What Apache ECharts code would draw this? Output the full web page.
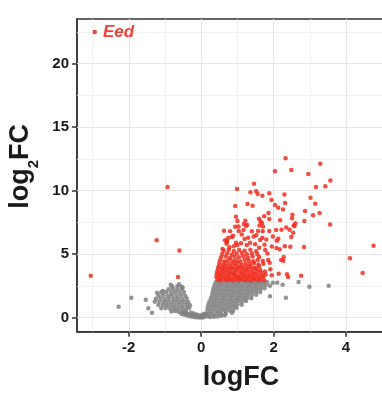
<!DOCTYPE html>
<html><head><meta charset="utf-8">
<script src="https://cdn.jsdelivr.net/npm/echarts@6/dist/echarts.min.js"></script>
<style>html,body{margin:0;padding:0;background:#fff}#c{width:382px;height:394px}</style>
</head><body><div id="c"></div>
<script>
// ---- data ----
const xTickValues = [-2, 0, 2, 4];
const yTickValues = [0, 5, 10, 15, 20];
const xGridMajor = [-2, 0, 2, 4];
const xGridMinor = [-3, -1, 1, 3, 5];
const yGridMajor = [0, 5, 10, 15, 20];
const yGridMinor = [2.5, 7.5, 12.5, 17.5, 22.5];

const labelledPoint = [[-2.94, 22.5]];
const labelledName = 'Eed';

const upPoints = [
 [2.33,12.55],[2.04,11.53],[2.49,11.63],[3.29,12.13],[2.96,11.32],
 [0.99,10.13],[1.46,10.55],[1.36,9.87],[1.52,9.95],[1.56,9.74],[1.69,9.6],[1.88,9.8],[2.3,9.7],[1.94,9.27],[3.02,9.45],[3.17,10.3],[3.43,10.35],[3.57,10.8],
 [0.94,8.8],[1.28,8.95],[1.42,8.82],[2.04,8.87],[2.13,8.66],[2.26,8.53],[2.32,9.03],[3.15,8.98],[2.87,8.4],[2.52,8.1],[3.27,8.24],[3.09,8.06],
 [1.86,8.24],[1.88,7.77],[1.74,7.98],[0.96,7.95],[1.0,7.61],[0.94,7.17],[1.22,7.63],[1.18,7.37],[1.03,7.19],[1.27,7.3],
 [1.6,7.8],[1.64,7.57],[1.68,7.45],[1.71,7.18],[1.61,7.26],[2.18,7.67],[2.51,7.83],[2.6,7.43],[2.85,7.61],[3.56,7.35],[2.56,7.26],
 [0.63,6.85],[0.8,6.8],[1.24,7.24],[1.4,6.8],[1.57,6.83],[1.7,6.8],[1.88,6.83],[2.07,6.9],[2.22,6.93],[2.44,6.93],[2.58,7.22],[2.35,7.1],[2.54,6.7],[1.17,6.9],[1.04,6.83],[2.49,6.35],
 [4.76,5.67],[2.31,5.62],[2.46,5.59],[2.84,5.57],[2.28,4.78],[2.27,4.49],[2.21,4.54],[4.11,4.68],[4.46,3.52],[2.14,3.46],[2.37,3.42],[2.4,3.2],[2.76,3.3],[1.95,3.35],
 [-0.93,10.3],[-3.05,3.3],[-1.23,6.1],[-0.6,5.3],[-0.64,3.2],
 [0.88,6.45],[1.12,6.55],[1.3,6.3],[1.52,6.5],[1.8,6.15],[1.98,6.4],[0.75,6.3],
 [0.59,5.41],[0.9,5.62],[1.0,5.72],[1.1,5.86],[1.26,5.72],[1.35,5.9],[1.49,5.78],[1.63,6.12],[1.69,6.3],[0.66,6.1],[0.71,5.96],[0.96,5.9],[0.7,5.83],[0.71,6.06],
 [2.09,6.06],[2.13,6.22],[2.08,5.49],[2.17,5.39],[1.2,6.2],[1.45,6.4],[0.85,6.35],[1.75,5.75],[1.95,5.6],[1.6,5.5],[0.78,5.55],
 [0.62,5.3],[0.76,5.36],[0.9,5.25],[1.05,5.33],[1.2,5.27],[1.36,5.35],[1.52,5.24],[1.77,5.33],
 [0.58,5.02],[0.72,5.08],[0.85,4.98],[0.98,5.05],[1.12,5.1],[1.26,4.99],[1.4,5.06],[1.55,5.0],[1.83,5.05],
 [0.55,4.76],[0.68,4.82],[0.8,4.72],[0.92,4.8],[1.04,4.76],[1.16,4.84],[1.29,4.72],[1.42,4.82],[1.6,4.78],
 [0.52,4.5],[0.64,4.44],[0.75,4.54],[0.86,4.46],[0.96,4.5],[1.08,4.44],[1.2,4.56],[1.32,4.48],[1.44,4.44],[1.56,4.54],[1.7,4.46],[1.89,4.33],[1.85,4.54],
 [0.5,4.26],[0.6,4.2],[0.7,4.3],[0.8,4.22],[0.91,4.25],[1.01,4.32],[1.12,4.2],[1.23,4.27],[1.35,4.22],[1.46,4.3],[1.58,4.2],[1.72,4.25],
 [0.48,4.04],[0.58,3.98],[0.67,4.06],[0.77,4.0],[0.87,3.96],[0.96,4.08],[1.06,4.02],[1.16,3.98],[1.26,4.06],[1.37,4.01],[1.48,3.96],[1.6,4.06],[1.91,3.81],
 [0.46,3.84],[0.56,3.78],[0.65,3.88],[0.74,3.8],[0.84,3.85],[0.93,3.77],[1.02,3.9],[1.12,3.82],[1.22,3.79],[1.31,3.87],[1.42,3.8],[1.52,3.84],[1.63,3.77],
 [0.44,3.62],[0.53,3.55],[0.62,3.66],[0.71,3.58],[0.8,3.61],[0.9,3.53],[0.99,3.65],[1.08,3.59],[1.17,3.55],[1.26,3.66],[1.36,3.6],[1.45,3.53],[1.55,3.63],[1.66,3.57],[1.76,3.64],
 [0.43,3.42],[0.52,3.35],[0.6,3.45],[0.69,3.33],[0.78,3.39],[0.86,3.47],[0.95,3.37],[1.03,3.31],[1.12,3.43],[1.21,3.36],[1.3,3.41],[1.39,3.32],[1.48,3.44],[1.58,3.37],[1.68,3.33],[1.78,3.4],
 [0.42,3.2],[0.5,3.13],[0.58,3.23],[0.67,3.14],[0.75,3.18],[0.84,3.11],[0.92,3.24],[1.01,3.16],[1.1,3.12],[1.18,3.21],[1.27,3.15],[1.35,3.23],[1.44,3.13],[1.52,3.18],[1.61,3.1],[1.72,3.2],
 [0.45,3.0],[0.53,2.95],[0.61,3.04],[0.7,2.96],[0.78,3.01],[0.87,2.94],[0.95,3.02],[1.04,2.97],[1.12,3.03],[1.21,2.95],[1.29,3.0],[1.38,2.94],[1.46,3.02],[1.55,2.96],[1.64,3.0],[1.74,2.95]
];

const nsPoints = [
 [-0.55,0.32],[-0.48,0.25],[-0.4,0.18],[-0.32,0.12],[-0.24,0.07],[-0.16,0.04],[-0.08,0.02],[0.0,0.01],[0.06,0.04],[0.11,0.1],
 [-0.5,0.42],[-0.42,0.35],[-0.34,0.28],[-0.26,0.2],[-0.18,0.15],[-0.1,0.1],[-0.03,0.08],[0.04,0.12],[0.09,0.2],
 [-0.28,0.42],[-0.2,0.33],[-0.12,0.25],[-0.05,0.18],[0.02,0.22],[0.14,0.3],[0.08,0.32],
 [0.25,0.05],[0.35,0.08],[0.45,0.1],[0.55,0.15],[0.65,0.2],[0.18,0.12],
 [0.15,0.3],[0.25,0.32],[0.35,0.28],[0.45,0.33],[0.55,0.3],[0.68,0.34],
 [0.17,0.55],[0.27,0.53],[0.37,0.57],[0.47,0.52],[0.57,0.56],[0.67,0.54],[0.78,0.57],[0.88,0.55],
 [0.18,0.8],[0.28,0.78],[0.38,0.82],[0.48,0.79],[0.58,0.81],[0.68,0.77],[0.78,0.83],[0.88,0.8],[0.98,0.78],
 [0.2,1.05],[0.3,1.03],[0.4,1.07],[0.5,1.04],[0.6,1.06],[0.7,1.02],[0.8,1.07],[0.9,1.04],[1.0,1.06],[1.12,1.03],
 [0.23,1.3],[0.33,1.28],[0.43,1.32],[0.53,1.29],[0.63,1.31],[0.73,1.27],[0.83,1.32],[0.93,1.29],[1.03,1.31],[1.13,1.28],[1.24,1.32],
 [0.27,1.55],[0.37,1.53],[0.47,1.57],[0.57,1.54],[0.67,1.56],[0.77,1.52],[0.87,1.57],[0.97,1.54],[1.07,1.56],[1.17,1.53],[1.27,1.57],[1.38,1.54],
 [0.3,1.8],[0.4,1.78],[0.5,1.82],[0.6,1.79],[0.7,1.81],[0.8,1.77],[0.9,1.82],[1.0,1.79],[1.1,1.81],[1.2,1.78],[1.3,1.82],[1.4,1.79],[1.52,1.8],
 [0.32,2.05],[0.42,2.03],[0.52,2.07],[0.62,2.04],[0.72,2.06],[0.82,2.02],[0.92,2.07],[1.02,2.04],[1.12,2.06],[1.22,2.03],[1.32,2.07],[1.42,2.04],[1.52,2.06],[1.63,2.03],
 [0.34,2.3],[0.44,2.28],[0.54,2.32],[0.64,2.29],[0.74,2.31],[0.84,2.27],[0.94,2.32],[1.04,2.29],[1.14,2.31],[1.24,2.28],[1.34,2.32],[1.44,2.29],[1.54,2.31],[1.64,2.28],[1.75,2.32],
 [0.37,2.55],[0.47,2.53],[0.57,2.57],[0.67,2.54],[0.77,2.56],[0.87,2.52],[0.97,2.57],[1.07,2.54],[1.17,2.56],[1.27,2.53],[1.37,2.57],[1.47,2.54],[1.57,2.56],[1.67,2.53],[1.78,2.57],[1.9,2.52],
 [0.4,2.8],[0.5,2.78],[0.6,2.82],[0.7,2.79],[0.8,2.81],[0.9,2.77],[1.0,2.82],[1.1,2.79],[1.2,2.81],[1.3,2.78],[1.4,2.82],[1.5,2.79],[1.6,2.81],[1.7,2.78],[1.82,2.8],[1.98,2.76],
 [-0.82,0.5],[-0.72,0.52],[-0.62,0.48],[-0.52,0.51],[-0.42,0.49],
 [-1.1,0.75],[-0.98,0.77],[-0.86,0.73],[-0.75,0.76],[-0.64,0.74],[-0.53,0.77],[-0.42,0.73],[-0.33,0.76],
 [-1.18,1.0],[-1.06,1.02],[-0.95,0.98],[-0.84,1.01],[-0.73,0.99],[-0.62,1.02],[-0.51,0.98],[-0.4,1.01],[-0.31,0.99],
 [-1.28,1.25],[-1.15,1.27],[-1.03,1.23],[-0.92,1.26],[-0.8,1.24],[-0.69,1.27],[-0.58,1.23],[-0.47,1.26],[-0.36,1.24],
 [-1.25,1.5],[-1.12,1.52],[-1.0,1.48],[-0.88,1.51],[-0.76,1.49],[-0.64,1.52],[-0.52,1.48],[-0.4,1.51],
 [-1.18,1.75],[-1.05,1.77],[-0.92,1.73],[-0.8,1.76],[-0.68,1.74],[-0.56,1.77],[-0.44,1.73],
 [-1.1,2.0],[-0.97,2.02],[-0.84,1.98],[-0.72,2.01],[-0.6,1.99],[-0.48,2.02],
 [-0.9,2.25],[-0.78,2.27],[-0.66,2.23],[-0.54,2.26],
 [-0.8,2.45],[-0.66,2.47],[-0.54,2.43],
 [-2.28,0.87],[-1.93,1.57],[-1.53,1.42],[-1.46,0.74],[-1.36,0.39],[-1.22,1.97],[-1.06,2.1],[-0.84,2.6],[-0.61,2.63],[-0.51,2.36],
 [1.9,1.7],[2.34,1.57],[2.69,2.81],[2.99,2.44],[3.52,2.52],[2.1,2.75],[2.25,2.6],[0.85,0.39]
];

// ---- chart ----
const RED = '#EE2E20';
const GREY = '#808080';
const TXT = '#1a1a1a';
const FONT = 'Liberation Sans, Arial, Helvetica, sans-serif';

function vLines(vals, color, width) {
  return vals.map(v => ({ xAxis: v, lineStyle: { color: color, width: width, type: 'solid' } }));
}
function hLines(vals, color, width) {
  return vals.map(v => ({ yAxis: v, lineStyle: { color: color, width: width, type: 'solid' } }));
}

const chart = echarts.init(document.getElementById('c'), null, { renderer: 'canvas' });
chart.setOption({
  animation: false,
  textStyle: { fontFamily: FONT },
  grid: { left: 77, top: 19, width: 328, height: 312.7, show: true, containLabel: false,
          outerBoundsMode: 'none',
          borderColor: '#333', borderWidth: 1.5, backgroundColor: '#fff' },
  xAxis: {
    type: 'value', min: -3.43, max: 5.63,
    axisLine: { show: true, onZero: false, lineStyle: { color: '#333', width: 1.5 } },
    axisTick: { show: true, customValues: xTickValues, length: 5, lineStyle: { color: '#333', width: 1.5 } },
    axisLabel: { customValues: xTickValues, margin: 9, fontSize: 15, fontWeight: 'bold', color: TXT, fontFamily: FONT },
    splitLine: { show: false },
    name: 'logFC', nameLocation: 'middle', nameGap: 32,
    nameTextStyle: { fontSize: 27, fontWeight: 'bold', color: TXT, fontFamily: FONT }
  },
  yAxis: {
    type: 'value', min: -1.1, max: 23.52,
    axisLine: { show: true, onZero: false, lineStyle: { color: '#333', width: 1.5 } },
    axisTick: { show: true, customValues: yTickValues, length: 5, lineStyle: { color: '#333', width: 1.5 } },
    axisLabel: { customValues: yTickValues, margin: 8, fontSize: 15, fontWeight: 'bold', color: TXT, fontFamily: FONT },
    splitLine: { show: false },
    name: '{a|log}{b|2}{a|FC}', nameLocation: 'middle', nameGap: 33, nameRotate: 90,
    nameTextStyle: {
      color: TXT, fontFamily: FONT, padding: [0, 0, 0, 18],
      rich: {
        a: { fontSize: 27, fontWeight: 'bold', color: TXT, fontFamily: FONT, padding: [0, 0, 7, 0] },
        b: { fontSize: 15, fontWeight: 'bold', color: TXT, fontFamily: FONT, verticalAlign: 'bottom', lineHeight: 15 }
      }
    }
  },
  series: [
    {
      type: 'scatter', data: [], silent: true, z: 1,
      markLine: {
        silent: true, symbol: ['none', 'none'], z: 1, animation: false,
        label: { show: false },
        data: [].concat(
          vLines(xGridMinor, '#eeeeee', 0.8), hLines(yGridMinor, '#eeeeee', 0.8),
          vLines(xGridMajor, '#e6e6e6', 1.1), hLines(yGridMajor, '#e6e6e6', 1.1)
        )
      }
    },
    {
      type: 'scatter', data: nsPoints, symbolSize: 4.5, z: 3, silent: true,
      itemStyle: { color: GREY, opacity: 0.85 }
    },
    {
      type: 'scatter', data: upPoints, symbolSize: 4.5, z: 4, silent: true,
      itemStyle: { color: RED, opacity: 0.85 }
    },
    {
      type: 'scatter', data: labelledPoint, symbolSize: 4.5, z: 5, silent: true,
      itemStyle: { color: RED, opacity: 0.9 },
      label: {
        show: true, position: 'right', distance: 6, formatter: labelledName,
        fontSize: 17, fontWeight: 'bold', fontStyle: 'italic', color: RED, fontFamily: FONT
      }
    }
  ]
});
</script>
</body></html>
